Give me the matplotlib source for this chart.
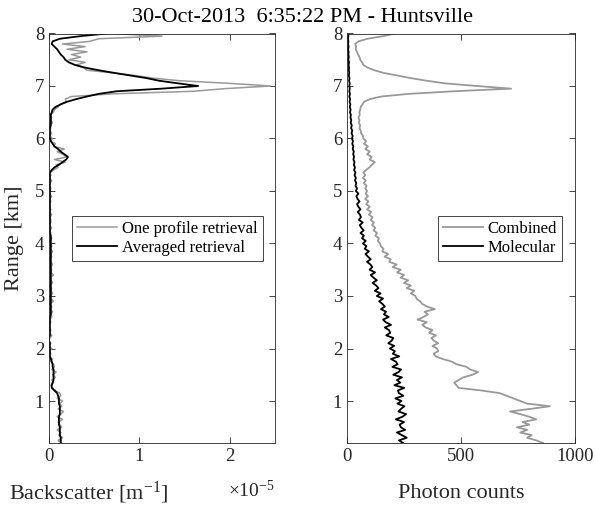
import numpy as np
import matplotlib
matplotlib.use("Agg")
import matplotlib.pyplot as plt

plt.rcParams['font.family'] = ['Liberation Serif', 'DejaVu Serif']
plt.rcParams['mathtext.fontset'] = 'custom'
plt.rcParams['mathtext.rm'] = 'Liberation Serif'
plt.rcParams['mathtext.it'] = 'Liberation Serif:italic'

# ---------------- data (range grid 0.20 ... 8.00 km, step 0.05 km) ----------------
range_start_km = 0.20
range_step_km = 0.05

# Backscatter, units of 1e-5 m^-1
one_profile_retrieval = [
    0.14, 0.10, 0.15, 0.11, 0.13, 0.09, 0.14, 0.12, 0.10, 0.15, 0.09, 0.13, 0.16, 0.10, 0.14, 0.12, 0.15, 0.09, 0.13,
    0.12, 0.07, 0.04, 0.02,
    0.05, 0.03, 0.07, 0.04, 0.08, 0.03, 0.06, 0.05, 0.02, 0.04,
    0.00, 0.02, 0.01, 0.03, -0.01, 0.02, 0.00, 0.01, 0.03, 0.00, 0.02, 0.01, 0.00, 0.02, 0.01, 0.03,
    0.02, 0.04, 0.01, 0.03, 0.00, 0.05, 0.02, 0.01, 0.04, 0.02, 0.03, 0.00, 0.04, 0.02, 0.01, 0.05, 0.02, 0.03, 0.01, 0.04,
    0.02, 0.00, 0.03, 0.02, 0.04, 0.01, 0.03, 0.02,
    0.01, 0.03, 0.00, 0.02, 0.01, 0.03, 0.00, 0.02, 0.02, 0.01, 0.03, 0.00, 0.02, 0.01, 0.00, 0.02, 0.01, 0.03, 0.00, 0.01,
    0.02, 0.00, 0.01, 0.03, 0.00, 0.02, 0.01,
    0.05, 0.10, 0.08, 0.18, 0.06, 0.20, 0.15, 0.09, 0.17, 0.05, 0.07, 0.02, 0.04,
    0.00, 0.03, 0.01, 0.02, 0.00, 0.04, 0.02, 0.03, 0.01, 0.05,
    0.06, 0.10, 0.12, 0.19, 0.18, 0.25, 0.70, 1.60, 1.95, 2.45, 2.00, 1.45, 1.15, 0.95, 0.70, 0.42, 0.38, 0.30, 0.40, 0.22,
    0.35, 0.25, 0.42, 0.20, 0.40, 0.15, 0.45, 0.55, 1.25, 0.70,
]

averaged_retrieval = [
    0.13, 0.13, 0.13, 0.12, 0.12, 0.12, 0.12, 0.11, 0.11, 0.11, 0.11, 0.12, 0.12, 0.12, 0.12, 0.11, 0.11, 0.11, 0.10,
    0.09, 0.06, 0.03, 0.03,
    0.04, 0.05, 0.05, 0.05, 0.05, 0.05, 0.04, 0.04, 0.03, 0.02,
    0.01, 0.01, 0.01, 0.01, 0.01, 0.01, 0.00, 0.00, 0.01, 0.01, 0.01, 0.01, 0.01, 0.01, 0.01, 0.01,
    0.02, 0.02, 0.02, 0.02, 0.02, 0.02, 0.02, 0.02, 0.02, 0.02, 0.02, 0.02, 0.02, 0.02, 0.02, 0.02, 0.02, 0.02, 0.02, 0.02,
    0.02, 0.02, 0.02, 0.02, 0.02, 0.02, 0.02, 0.02,
    0.02, 0.02, 0.02, 0.01, 0.01, 0.01, 0.01, 0.01, 0.01, 0.01, 0.01, 0.01, 0.01, 0.01, 0.01, 0.01, 0.01, 0.01, 0.01, 0.01,
    0.01, 0.01, 0.01, 0.01, 0.01, 0.01, 0.01,
    0.03, 0.06, 0.11, 0.15, 0.19, 0.21, 0.17, 0.13, 0.10, 0.06, 0.04, 0.02, 0.01,
    0.01, 0.01, 0.01, 0.01, 0.02, 0.02, 0.02, 0.02, 0.02, 0.03,
    0.04, 0.07, 0.13, 0.20, 0.30, 0.42, 0.55, 0.75, 1.25, 1.65, 1.43, 1.22, 1.08, 0.90, 0.72, 0.55, 0.40, 0.29, 0.22, 0.18,
    0.16, 0.13, 0.11, 0.09, 0.06, 0.03, 0.04, 0.12, 0.35, 0.64,
]

# Photon counts
combined_counts = [
    860, 830, 790, 810, 760, 790, 745, 800, 770, 830, 800, 760, 715, 805, 890, 790,
    760, 730, 700, 670, 590, 490, 480, 470, 490, 510, 550, 575, 540, 525, 480, 460, 420, 390, 380, 400,
    395, 375, 400, 380, 370, 390, 360, 375, 345, 330, 350, 310, 335, 355, 340, 385, 350, 330, 320, 305,
    300, 280, 295, 262, 280, 250, 268, 235, 250, 220, 236, 200, 218, 185, 192, 165, 180, 155, 160, 148,
    145, 135, 140, 124, 132, 116, 124, 110, 118, 104, 112, 96, 106, 88, 100, 84, 94, 80, 92, 82,
    88, 80, 86, 74, 82, 70, 80, 72, 84, 98, 110, 122, 100, 108, 88, 100, 80, 92, 74, 84,
    72, 70, 62, 60, 55, 58, 52, 55, 50, 56, 54, 58, 60, 68, 75, 100, 150, 270, 470, 720,
    570, 430, 350, 280, 220, 160, 120, 90, 72, 66, 58, 55, 48, 44, 38, 40, 36, 50, 90, 160, 210,
]

molecular_counts = [
    246, 228, 262, 240, 219, 255, 236, 231, 250, 214, 243, 259, 226, 237, 252, 221,
    239, 212, 247, 228, 223, 251, 208, 234, 219, 241, 203, 226, 237, 199, 222, 214, 193, 229, 201, 210,
    188, 207, 181, 196, 203, 172, 190, 184, 166, 193, 170, 158, 183, 162, 171, 149, 166, 155, 141, 158,
    131, 147, 122, 138, 128, 112, 131, 116, 104, 123, 99, 111, 103, 88, 104, 92, 81, 96, 78, 85,
    70, 82, 66, 74, 59, 73, 63, 56, 69, 52, 61, 57, 47, 59, 50, 44, 55, 46, 41, 50,
    39, 44, 37, 41, 35, 39, 33, 37, 31, 35, 30, 33, 28, 31, 27, 30, 25, 28, 23, 26,
    22, 25, 20, 23, 18, 21, 16, 19, 15, 17, 13, 16, 12, 15, 11, 14, 10, 13, 10, 12,
    10, 12, 9, 11, 8, 10, 8, 9, 7, 9, 6, 8, 6, 7, 5, 7, 5, 6, 4, 6, 5,
]

title_text = "30-Oct-2013  6:35:22 PM - Huntsville"
left_legend = ["One profile retrieval", "Averaged retrieval"]
right_legend = ["Combined", "Molecular"]
left_xticks = [0, 1, 2]
right_xticks = [0, 500, 1000]
yticks = [1, 2, 3, 4, 5, 6, 7, 8]


def range_axis(values):
    return range_start_km + range_step_km * np.arange(len(values))


GRAY = '#999999'
AX_COLOR = '#262626'
TICK_FS = 13.5
LABEL_FS = 16
LEG_FS = 12

fig = plt.figure(figsize=(5.95, 5.07), dpi=100)
W, H = 595.0, 507.0
axL = fig.add_axes([49 / W, (H - 443) / H, 226 / W, 409.5 / H])
axR = fig.add_axes([347 / W, (H - 443) / H, 228 / W, 409.5 / H])

axL.plot(one_profile_retrieval, range_axis(one_profile_retrieval), color=GRAY, lw=1.1, label=left_legend[0])
axL.plot(averaged_retrieval, range_axis(averaged_retrieval), color='black', lw=1.3, label=left_legend[1])

axR.plot(combined_counts, range_axis(combined_counts), color=GRAY, lw=1.3, label=right_legend[0])
axR.plot(molecular_counts, range_axis(molecular_counts), color='black', lw=1.3, label=right_legend[1])

legend_anchor = {axL: 0.947, axR: 0.944}
for ax in (axL, axR):
    ax.set_ylim(0.2, 8)
    ax.set_yticks(yticks)
    ax.tick_params(direction='in', top=True, right=True, length=4, width=0.6,
                   colors=AX_COLOR, labelsize=TICK_FS, labelcolor='#262626')
    for s in ax.spines.values():
        s.set_color(AX_COLOR)
        s.set_linewidth(0.6)
    leg = ax.legend(loc='center right', bbox_to_anchor=(legend_anchor[ax], 0.50), borderaxespad=0,
                    fontsize=LEG_FS, fancybox=False, framealpha=1, edgecolor=AX_COLOR,
                    handlelength=2.4, borderpad=0.3, labelspacing=0.15, handletextpad=0.3)
    leg.get_frame().set_linewidth(0.6)

axL.set_xlim(0, 2.5)
axL.set_xticks(left_xticks)
axL.set_xticklabels([str(t) for t in left_xticks])
axR.set_xlim(0, 1000)
axR.set_xticks(right_xticks)
axR.set_xticklabels([str(t) for t in right_xticks])

axL.set_ylabel("Range [km]", fontsize=LABEL_FS, color='#262626')
axL.yaxis.set_label_coords(-0.112, 0.5)

axL.set_xlabel("Backscatter [m$^{-1}$]", fontsize=LABEL_FS, color='#262626')
axL.xaxis.set_label_coords(0.177, -0.09)
axL.text(1.0, -0.115, r"$\times$10$^{-5}$", transform=axL.transAxes, ha='right', va='center',
         fontsize=14, color='#262626')

axR.set_xlabel("Photon counts", fontsize=LABEL_FS, color='#262626')
axR.xaxis.set_label_coords(0.5, -0.1)

fig.text(303 / W, 1 - 17 / H, title_text, ha='center', va='center', fontsize=LABEL_FS, color='black')

fig.savefig("out.png", dpi=100)
